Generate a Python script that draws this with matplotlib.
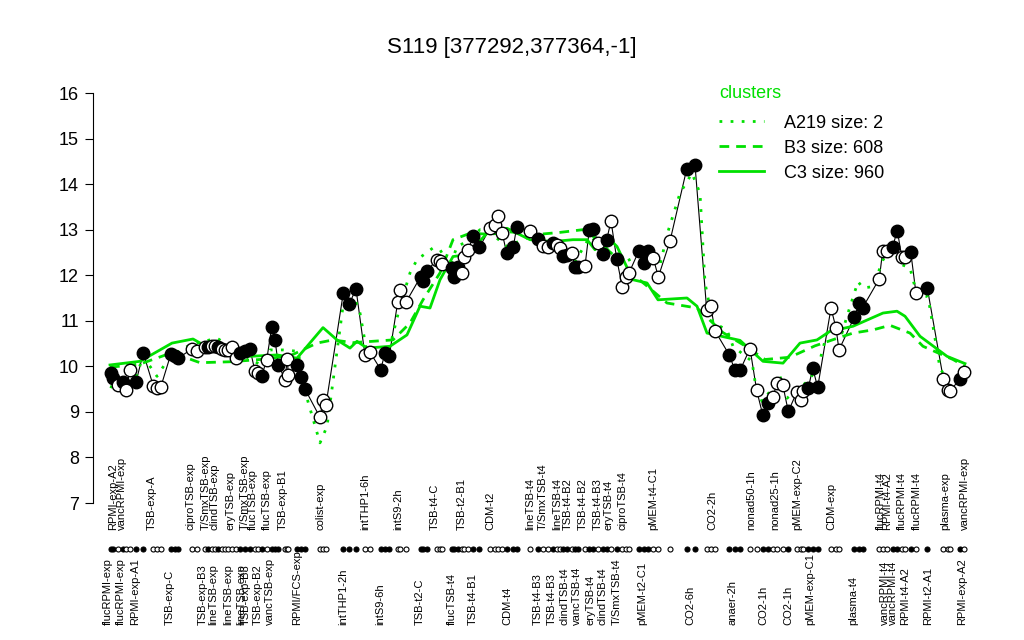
import matplotlib.pyplot as plt
import matplotlib.transforms as transforms
from matplotlib.lines import Line2D

plt.rcParams['font.family'] = ['Liberation Sans', 'DejaVu Sans']

GREEN = '#00e000'

# position of each sample along the x axis, its value and whether it is filled
x_pos = [110.7, 113.3, 118.3, 123.3, 126, 130, 136, 143.3,
         153.3, 156.7, 160.7,
         171, 175, 178.3,
         191.7, 196.7,
         205, 208.3, 211.7, 215, 218.3, 221.7, 225, 228.3, 231.7, 236, 240, 245, 250,
         255, 258.3, 261.7, 266.7, 271.7, 275, 278.3, 285, 287.3, 288.3, 296.7, 300.7, 305,
         320, 323.3, 326,
         343.3, 349.3, 356,
         365, 370,
         380.7, 385, 389.3,
         397.7, 400, 406,
         420.7, 423.3, 427.3,
         436.7, 440, 441.7,
         451.7, 454, 458.3, 462.3, 464.3, 468.3, 473.3, 479.3,
         490, 495, 498.3, 502.3, 506.7, 513.3, 516.7,
         530, 538.3, 543.3, 548.3, 553.3, 556.7, 560, 563.3, 566.7, 571.7, 575, 578.3,
         585, 589.3, 593.3, 598.3, 602.7, 606.7, 611, 616.7, 622.3, 626, 629,
         639, 644.3, 648.3, 653.3, 658.3,
         670,
         686.7, 695,
         706.7, 710.7, 715,
         729.3, 735, 740,
         750, 756.7,
         762.7, 768.3, 772.7, 777.3, 782.7, 788.3,
         796.7, 801, 803.3, 808.3, 812.7, 817.7,
         831, 836, 839,
         854.3, 859.3, 862.7,
         879.3, 882.7, 886.7, 892.7, 897.3, 901.7, 905, 910.7, 916,
         927.3,
         943.3, 947.7, 950,
         960, 964.3]

values = [9.85, 9.74, 9.6, 9.65, 9.47, 9.93, 9.66, 10.29,
          9.57, 9.53, 9.54,
          10.28, 10.23, 10.18,
          10.38, 10.34,
          10.42, 10.43, 10.45, 10.44, 10.42, 10.38, 10.36, 10.36, 10.42, 10.18, 10.29, 10.33, 10.38,
          9.89, 9.85, 9.79, 10.14, 10.86, 10.58, 10.04, 9.71, 10.17, 9.82, 10.04, 9.77, 9.5,
          8.88, 9.27, 9.16,
          11.61, 11.37, 11.7,
          10.24, 10.31,
          9.93, 10.29, 10.23,
          11.41, 11.68, 11.41,
          11.97, 11.88, 12.1,
          12.34, 12.32, 12.24,
          12.16, 11.97, 12.18, 12.05, 12.4, 12.56, 12.86, 12.61,
          13.03, 13.11, 13.31, 12.92, 12.48, 12.62, 13.06,
          12.98, 12.8, 12.65, 12.63, 12.7, 12.67, 12.59, 12.43, 12.45, 12.48, 12.19, 12.18,
          12.2, 13.0, 13.02, 12.7, 12.46, 12.78, 13.19, 12.36, 11.74, 11.96, 12.05,
          12.54, 12.27, 12.54, 12.38, 11.96,
          12.75,
          14.33, 14.42,
          11.24, 11.33, 10.78,
          10.25, 9.91, 9.91,
          10.39, 9.47,
          8.94, 9.2, 9.33, 9.63, 9.6, 9.01,
          9.43, 9.27, 9.45, 9.52, 9.96, 9.54,
          11.28, 10.84, 10.36,
          11.08, 11.4, 11.29,
          11.92, 12.54, 12.54, 12.63, 12.98, 12.41, 12.4, 12.52, 11.6,
          11.72,
          9.73, 9.49, 9.45,
          9.73, 9.87]

filled = [1, 1, 0, 1, 0, 0, 1, 1,
          0, 0, 0,
          1, 1, 1,
          0, 0,
          0, 1, 0, 0, 1, 0, 0, 0, 0, 0, 1, 1, 1,
          0, 0, 1, 0, 1, 1, 1, 0, 0, 0, 1, 1, 1,
          0, 0, 0,
          1, 1, 1,
          0, 0,
          1, 1, 1,
          0, 0, 0,
          1, 1, 1,
          0, 0, 0,
          1, 1, 1, 0, 0, 0, 1, 1,
          0, 0, 0, 0, 1, 1, 1,
          0, 1, 0, 0, 1, 0, 0, 1, 1, 0, 1, 1,
          0, 1, 1, 0, 1, 1, 0, 1, 0, 0, 0,
          1, 1, 1, 0, 0,
          0,
          1, 1,
          0, 0, 0,
          1, 1, 1,
          0, 0,
          1, 1, 0, 0, 0, 1,
          0, 0, 0, 1, 1, 1,
          0, 0, 0,
          1, 1, 1,
          0, 0, 0, 1, 1, 0, 0, 1, 0,
          1,
          0, 0, 0,
          1, 0]

# cluster mean profiles
c3_x = [110, 140, 172, 193, 205, 250, 277, 297, 323, 337, 350, 357, 367, 390, 407, 420,
        430, 440, 453, 467, 487, 507, 530, 553, 573, 587, 595, 607, 617, 633, 647, 658,
        687, 697, 707, 740, 763, 783, 800, 817, 830, 853, 883, 897, 905, 920, 947, 965]
c3_y = [10.03, 10.11, 10.51, 10.6, 10.45, 10.22, 10.25, 10.18, 10.85, 10.58, 10.4, 10.55,
        10.4, 10.44, 10.69, 11.32, 11.28, 11.9, 12.41, 12.45, 12.92, 13.03, 12.78, 12.74,
        12.78, 12.78, 12.56, 12.85, 12.63, 11.9, 11.83, 11.46, 11.5, 11.32, 10.73, 10.57,
        10.11, 10.07, 10.51, 10.58, 10.77, 10.88, 11.17, 11.21, 11.1, 10.66, 10.22, 10.06]

b3_x = [110, 140, 172, 200, 230, 260, 290, 317, 333, 353, 393, 410, 423, 440, 453, 470,
        490, 510, 540, 560, 583, 600, 623, 645, 667, 697, 723, 745, 765, 790, 815, 835,
        853, 873, 890, 910, 923, 953, 965]
b3_y = [9.98, 10.05, 10.3, 10.08, 10.1, 10.15, 10.23, 10.51, 10.58, 10.52, 10.58, 10.95,
        11.46, 12.05, 12.78, 12.92, 12.9, 12.95, 12.9, 12.94, 13.0, 12.75, 12.19, 11.8,
        11.39, 11.28, 10.74, 10.45, 10.15, 10.2, 10.45, 10.6, 10.73, 10.8, 10.9, 10.73,
        10.44, 10.15, 10.0]

a219_x = [110, 123, 137, 143, 157, 170, 190, 217, 237, 260, 270, 283, 298, 307, 320, 327,
          335, 343, 355, 360, 367, 380, 390, 400, 410, 417, 433, 440, 450, 457, 467, 480,
          487, 507, 530, 553, 575, 590, 605, 623, 650, 660, 668, 680, 692, 700, 705, 713,
          727, 733, 752, 755, 762, 770, 780, 787, 797, 810, 820, 827, 833, 842, 847, 858,
          863, 873, 883, 893, 902, 910, 917, 928, 940, 953, 967]
a219_y = [9.56, 9.45, 9.82, 10.22, 9.78, 10.22, 10.47, 10.62, 10.33, 10.04, 10.36, 10.36,
          10.33, 9.3, 8.32, 8.68, 10.0, 11.32, 11.46, 11.17, 10.29, 10.19, 10.44, 11.32,
          12.05, 12.34, 12.6, 12.56, 12.19, 12.63, 12.74, 13.0, 12.99, 12.63, 12.85, 12.6,
          12.3, 12.85, 12.6, 12.27, 12.56, 12.23, 12.96, 13.8, 14.24, 13.8, 11.83, 10.96,
          10.8, 10.44, 10.11, 9.67, 9.23, 9.45, 9.78, 9.3, 9.49, 9.71, 10.14, 10.73, 10.88,
          10.73, 11.1, 11.86, 11.72, 11.75, 12.34, 12.56, 12.23, 12.16, 11.57, 11.53, 9.96,
          9.49, 9.78]

top_labels = ["RPMI-exp-A2", "vancRPMI-exp", "TSB-exp-A", "ciproTSB-exp", "T/SmxTSB-exp",
              "clindTSB-exp", "eryTSB-exp", "T/SmxTSB-exp", "flucTSB-exp", "flucTSB-exp",
              "TSB-exp-B1", "colist-exp", "intTHP1-6h", "intS9-2h", "TSB-t4-C", "TSB-t2-B1",
              "CDM-t2", "lineTSB-t4", "T/SmxTSB-t4", "lineTSB-t4", "TSB-t4-B2", "TSB-t4-B2",
              "TSB-t4-B3", "eryTSB-t4", "ciproTSB-t4", "pMEM-t4-C1", "CO2-2h", "nonad50-1h",
              "nonad25-1h", "pMEM-exp-C2", "CDM-exp", "flucRPMI-t4", "RPMI-t4-A2",
              "flucRPMI-t4", "flucRPMI-t4", "plasma-exp", "vancRPMI-exp"]
top_x = [113, 122, 152, 190, 206, 215, 231, 245, 253, 267, 283, 321, 365, 398, 435, 462,
         490, 530, 543, 557, 568, 583, 598, 608, 622, 653, 712, 751, 775, 797, 831, 881,
         887, 902, 917, 945, 965]

bottom_labels = ["flucRPMI-exp", "flucRPMI-exp", "RPMI-exp-A1", "TSB-exp-C", "TSB-exp-B3",
                 "lineTSB-exp", "lineTSB-exp", "lineTSB-exp", "TSB-exp-B3", "TSB-exp-B2",
                 "vancTSB-exp", "RPMI/FCS-exp", "intTHP1-2h", "intS9-6h", "TSB-t2-C",
                 "flucTSB-t4", "TSB-t4-B1", "CDM-t4", "TSB-t4-B3", "TSB-t4-B3", "clindTSB-t4",
                 "vancTSB-t4", "eryTSB-t4", "clindTSB-t4", "T/SmxTSB-t4", "pMEM-t2-C1",
                 "CO2-6h", "anaer-2h", "CO2-1h", "CO2-1h", "pMEM-exp-C1", "plasma-t4",
                 "vancRPMI-t4", "vancRPMI-t4", "RPMI-t4-A2", "RPMI-t2-A1", "RPMI-exp-A2"]
bottom_x = [108, 121, 135, 170, 203, 213, 228, 241, 246, 258, 270, 297, 343, 380, 420, 452,
            473, 507, 538, 552, 565, 577, 590, 603, 617, 642, 690, 732, 763, 788, 810, 853,
            885, 893, 905, 928, 962]

fig = plt.figure(figsize=(10.24, 6.4), dpi=100)
ax = fig.add_axes([93 / 1024, 1 - 503 / 640, (990 - 93) / 1024, 410 / 640])
ax.set_xlim(93, 990)
ax.set_ylim(7, 16)

for s in ['top', 'right', 'bottom']:
    ax.spines[s].set_visible(False)
ax.set_xticks([])
ax.set_yticks(range(7, 17))
ax.tick_params(axis='y', length=6, labelsize=13, pad=4)

ax.plot(x_pos, values, color='black', lw=0.8, zorder=2)
ax.plot(a219_x, a219_y, color=GREEN, lw=2, linestyle=(0, (1, 3)), zorder=3)
ax.plot(b3_x, b3_y, color=GREEN, lw=2, linestyle=(0, (3.5, 2.5)), zorder=3)
ax.plot(c3_x, c3_y, color=GREEN, lw=2, zorder=3)

for x, v, f in zip(x_pos, values, filled):
    ax.plot(x, v, 'o', ms=9, mec='black', mew=1,
            mfc='black' if f else 'white', zorder=4)

trans = transforms.blended_transform_factory(ax.transData, fig.transFigure)
for x, f in zip(x_pos, filled):
    ax.plot(x, 1 - 549 / 640, 'o', ms=3.6, mec='black', mew=0.8,
            mfc='black' if f else 'white', transform=trans, clip_on=False)

for x, lab in zip(top_x, top_labels):
    ax.text(x, 1 - 530 / 640, lab, rotation=90, ha='center', va='bottom',
            fontsize=8, transform=trans)
for x, lab in zip(bottom_x, bottom_labels):
    ax.text(x, 1 - 625 / 640, lab, rotation=90, ha='center', va='bottom',
            fontsize=8, transform=trans)

fig.text(0.5, 1 - 47 / 640, 'S119 [377292,377364,-1]', ha='center', va='center',
         fontsize=16)

handles = [Line2D([], [], color=GREEN, lw=2, linestyle=(0, (1, 3))),
           Line2D([], [], color=GREEN, lw=2, linestyle=(0, (3.5, 2.5))),
           Line2D([], [], color=GREEN, lw=2)]
leg = ax.legend(handles, ['A219 size: 2', 'B3 size: 608', 'C3 size: 960'],
                title='clusters', loc='upper left',
                bbox_to_anchor=(719 / 1024, 1 - 85 / 640), bbox_transform=fig.transFigure,
                frameon=False, fontsize=13, title_fontsize=13, alignment='left',
                borderpad=0, borderaxespad=0,
                handlelength=2.5, handletextpad=1.1, labelspacing=0.45)
leg.get_title().set_color(GREEN)
leg._legend_box.sep = 9

fig.savefig('out.png', dpi=100)
